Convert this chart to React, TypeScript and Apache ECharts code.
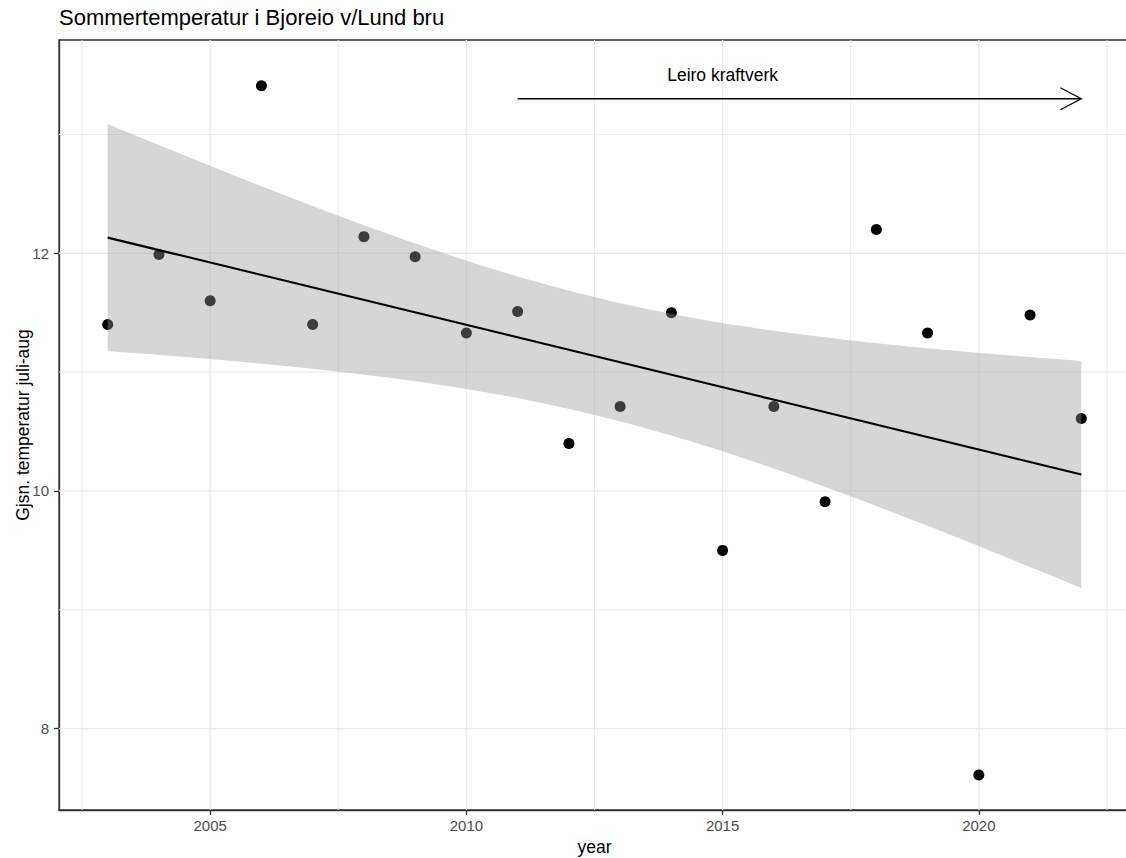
import { useEffect, useRef } from "react";
import * as echarts from "echarts";

// Mean July–August water temperature per year
const years = [2003, 2004, 2005, 2006, 2007, 2008, 2009, 2010, 2011, 2012, 2013, 2014, 2015, 2016, 2017, 2018, 2019, 2020, 2021, 2022];
const temps = [11.40, 11.99, 11.60, 13.41, 11.40, 12.14, 11.97, 11.33, 11.51, 10.40, 10.71, 11.50, 9.50, 10.71, 9.91, 12.20, 11.33, 7.61, 11.48, 10.61];

const xTicks = [2005, 2010, 2015, 2020];
const xMinor = [2002.5, 2007.5, 2012.5, 2017.5, 2022.5];
const yTicks = [8, 10, 12];
const yMinor = [9, 11, 13];

const titleText = "Sommertemperatur i Bjoreio v/Lund bru";
const annotationText = "Leiro kraftverk";
const annotationPos = [2015, 13.5];
const arrowStart = [2011, 13.3];
const arrowEnd = [2022, 13.3];

// Student t quantile, 97.5 %, 18 degrees of freedom (n - 2)
const T_CRIT = 2.100922;

const FONT = "'Liberation Sans', Arial, Helvetica, sans-serif";

function fitLinear(xs: number[], ys: number[]) {
  const n = xs.length;
  const mx = xs.reduce((a, b) => a + b, 0) / n;
  const my = ys.reduce((a, b) => a + b, 0) / n;
  let sxx = 0;
  let sxy = 0;
  for (let i = 0; i < n; i++) {
    sxx += (xs[i] - mx) ** 2;
    sxy += (xs[i] - mx) * (ys[i] - my);
  }
  const slope = sxy / sxx;
  const icpt = my - slope * mx;
  let sse = 0;
  for (let i = 0; i < n; i++) sse += (ys[i] - (icpt + slope * xs[i])) ** 2;
  const s = Math.sqrt(sse / (n - 2));
  return { n, mx, sxx, slope, icpt, s };
}

export default function App() {
  const ref = useRef<HTMLDivElement>(null);

  useEffect(() => {
    if (!ref.current) return;
    const chart = echarts.init(ref.current, null, { renderer: "svg" });

    const fit = fitLinear(years, temps);
    const x0 = Math.min(...years);
    const x1 = Math.max(...years);
    const steps = 80;
    const linePts: number[][] = [];
    const upper: number[][] = [];
    const lower: number[][] = [];
    for (let i = 0; i < steps; i++) {
      const x = x0 + ((x1 - x0) * i) / (steps - 1);
      const y = fit.icpt + fit.slope * x;
      const se = fit.s * Math.sqrt(1 / fit.n + (x - fit.mx) ** 2 / fit.sxx);
      linePts.push([x, y]);
      upper.push([x, y + T_CRIT * se]);
      lower.push([x, y - T_CRIT * se]);
    }

    // 5 % padding on each side of the data range
    const xPad = (x1 - x0) * 0.05;
    const yLo = Math.min(...temps, ...lower.map((p) => p[1]));
    const yHi = Math.max(...temps, annotationPos[1]);
    const yPad = (yHi - yLo) * 0.05;
    const xMin = x0 - xPad;
    const xMax = x1 + xPad;
    const yMin = yLo - yPad;
    const yMax = yHi + yPad;

    const option: any = {
      animation: false,
      backgroundColor: "#ffffff",
      textStyle: { fontFamily: FONT },
      graphic: [
        {
          type: "text",
          left: 59,
          top: 6,
          style: { text: titleText, fontSize: 22, fontFamily: FONT, fill: "#000000" },
        },
      ],
      grid: {
        left: 59,
        top: 40,
        right: 50,
        bottom: 48,
        containLabel: false,
        outerBoundsMode: "none",
        show: true,
        backgroundColor: "#ffffff",
        borderColor: "#333333",
        borderWidth: 1.3,
      },
      xAxis: {
        type: "value",
        min: xMin,
        max: xMax,
        name: "year",
        nameLocation: "middle",
        nameGap: 28,
        nameMoveOverlap: false,
        nameTextStyle: { fontSize: 17.5, color: "#000000", fontFamily: FONT },
        splitLine: { show: false },
        axisLine: { show: true, lineStyle: { color: "#333333", width: 1.3 } },
        axisTick: { show: true, length: 5, customValues: xTicks, lineStyle: { color: "#333333", width: 1.3 } },
        axisLabel: {
          customValues: xTicks,
          fontSize: 15,
          color: "#4d4d4d",
          margin: 8,
          fontFamily: FONT,
          formatter: (v: number) => String(v),
        },
      },
      yAxis: {
        type: "value",
        min: yMin,
        max: yMax,
        name: "Gjsn. temperatur juli-aug",
        nameLocation: "middle",
        nameGap: 27,
        nameMoveOverlap: false,
        nameTextStyle: { fontSize: 17.5, color: "#000000", fontFamily: FONT },
        splitLine: { show: false },
        axisLine: { show: true, lineStyle: { color: "#333333", width: 1.3 } },
        axisTick: { show: true, length: 5, customValues: yTicks, lineStyle: { color: "#333333", width: 1.3 } },
        axisLabel: {
          customValues: yTicks,
          fontSize: 15,
          color: "#4d4d4d",
          margin: 10,
          fontFamily: FONT,
          formatter: (v: number) => String(v),
        },
      },
      series: [
        {
          // panel grid lines
          type: "custom",
          z: 1,
          silent: true,
          data: [[xMin, yMin]],
          renderItem: (params: any, api: any) => {
            const cs = params.coordSys;
            const children: any[] = [];
            const vline = (v: number, w: number) => {
              const px = api.coord([v, yMin])[0];
              children.push({
                type: "line",
                shape: { x1: px, y1: cs.y, x2: px, y2: cs.y + cs.height },
                style: { stroke: "#ebebeb", lineWidth: w },
              });
            };
            const hline = (v: number, w: number) => {
              const py = api.coord([xMin, v])[1];
              children.push({
                type: "line",
                shape: { x1: cs.x, y1: py, x2: cs.x + cs.width, y2: py },
                style: { stroke: "#ebebeb", lineWidth: w },
              });
            };
            xMinor.forEach((v) => vline(v, 1));
            yMinor.forEach((v) => hline(v, 1));
            xTicks.forEach((v) => vline(v, 1.3));
            yTicks.forEach((v) => hline(v, 1.3));
            return { type: "group", children };
          },
        },
        {
          type: "scatter",
          z: 2,
          symbolSize: 11,
          itemStyle: { color: "#000000", opacity: 1 },
          data: years.map((y, i) => [y, temps[i]]),
        },
        {
          // 95 % confidence band of the linear fit
          type: "custom",
          z: 3,
          silent: true,
          data: [[x0, yMin]],
          renderItem: (_params: any, api: any) => {
            const pts = upper.map((p) => api.coord(p)).concat(lower.slice().reverse().map((p) => api.coord(p)));
            return {
              type: "polygon",
              shape: { points: pts },
              style: { fill: "rgba(153,153,153,0.4)", stroke: "none" },
            };
          },
        },
        {
          type: "line",
          z: 4,
          showSymbol: false,
          silent: true,
          lineStyle: { color: "#000000", width: 2.2 },
          data: linePts,
        },
        {
          // annotation: label and arrow
          type: "custom",
          z: 5,
          silent: true,
          data: [[arrowStart[0], arrowStart[1]]],
          renderItem: (_params: any, api: any) => {
            const a = api.coord(arrowStart);
            const b = api.coord(arrowEnd);
            const t = api.coord(annotationPos);
            return {
              type: "group",
              children: [
                {
                  type: "line",
                  shape: { x1: a[0], y1: a[1], x2: b[0], y2: b[1] },
                  style: { stroke: "#000000", lineWidth: 1.3 },
                },
                {
                  type: "polyline",
                  shape: { points: [[b[0] - 21, b[1] - 11], [b[0], b[1]], [b[0] - 21, b[1] + 11]] },
                  style: { stroke: "#000000", lineWidth: 1.3, fill: "none" },
                },
                {
                  type: "text",
                  x: t[0],
                  y: t[1],
                  style: {
                    text: annotationText,
                    fontSize: 17.5,
                    fontFamily: FONT,
                    fill: "#000000",
                    align: "center",
                    verticalAlign: "middle",
                  },
                },
              ],
            };
          },
        },
      ],
    };

    chart.setOption(option);
    return () => chart.dispose();
  }, []);

  return (
    <div
      style={{
        position: "fixed",
        left: 0,
        top: 0,
        width: 1126,
        height: 858,
        overflow: "hidden",
        background: "#ffffff",
      }}
    >
      <div ref={ref} style={{ width: 1180, height: 858 }} />
    </div>
  );
}
